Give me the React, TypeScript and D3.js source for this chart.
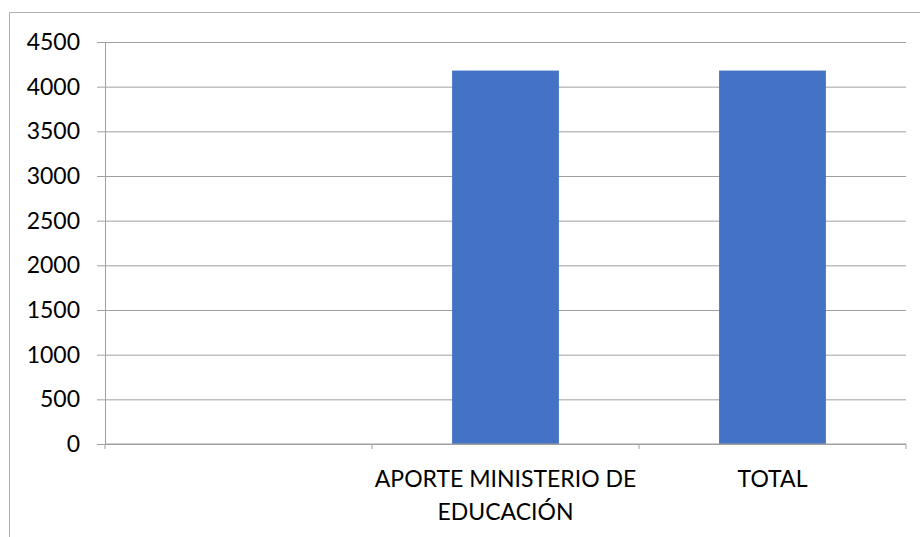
import React, { useRef, useEffect } from 'react'
import * as d3 from 'd3'

// chart data
const categories = ['', 'APORTE MINISTERIO DE EDUCACIÓN', 'TOTAL']
const values = [0, 4180, 4180]
const yTicks = [0, 500, 1000, 1500, 2000, 2500, 3000, 3500, 4000, 4500]

const App = () => {
  const svgRef = useRef<SVGSVGElement>(null)

  const width = 920
  const height = 537
  const margin = { top: 42, right: 14, bottom: 93, left: 105 }
  const font = 'Lato, "Open Sans", sans-serif'
  const fontSize = 23
  const gridColor = '#a0a0a0'

  useEffect(() => {
    const svg = d3.select(svgRef.current)
    svg.selectAll('*').remove()

    const x = d3.scaleBand<string>()
      .domain(categories)
      .range([margin.left, width - margin.right])
      .paddingInner(0.6)
      .paddingOuter(0.3)
    const y = d3.scaleLinear()
      .domain([0, 4500])
      .range([height - margin.bottom, margin.top])

    // chart frame (only top and left edges show)
    svg.append('rect')
      .attr('x', 9.5).attr('y', 12.5)
      .attr('width', width).attr('height', height)
      .attr('fill', 'none')
      .attr('stroke', '#b0b0b0')
      .attr('stroke-width', 1)

    // gridlines + y axis ticks
    const yAxis = d3.axisLeft(y).tickValues(yTicks).tickSize(8).tickPadding(17).tickFormat(d3.format('d'))
    const gy = svg.append('g')
      .attr('transform', `translate(${margin.left},0)`)
      .call(yAxis)
    gy.select('.domain').attr('stroke', gridColor)
    gy.selectAll('.tick line').attr('stroke', gridColor)
    gy.selectAll('.tick text')
      .attr('font-family', font)
      .attr('font-size', fontSize)
      .attr('fill', '#000')
    gy.selectAll('.tick').append('line')
      .attr('x1', 0)
      .attr('x2', width - margin.right - margin.left)
      .attr('stroke', gridColor)

    // bars
    svg.append('g')
      .selectAll('rect')
      .data(values)
      .join('rect')
      .attr('x', (d, i) => x(categories[i]) as number)
      .attr('y', d => y(d))
      .attr('width', x.bandwidth())
      .attr('height', d => y(0) - y(d))
      .attr('fill', '#4472C4')

    // x axis with category-boundary ticks
    const step = x.step()
    const x0 = margin.left
    const base = y(0)
    const gx = svg.append('g')
    gx.append('line')
      .attr('x1', x0).attr('x2', width - margin.right)
      .attr('y1', base).attr('y2', base)
      .attr('stroke', gridColor)
    gx.selectAll('line.tk')
      .data(d3.range(categories.length + 1))
      .join('line')
      .attr('class', 'tk')
      .attr('x1', i => x0 + i * step).attr('x2', i => x0 + i * step)
      .attr('y1', base).attr('y2', base + 5)
      .attr('stroke', gridColor)

    // category labels, wrapped to the band width
    categories.forEach((c, i) => {
      const cx = (x(c) as number) + x.bandwidth() / 2
      const t = gx.append('text')
        .attr('x', cx)
        .attr('y', base + 43)
        .attr('text-anchor', 'middle')
        .attr('font-family', font)
        .attr('font-size', fontSize)
        .attr('fill', '#000')
      const words = c.split(' ')
      let line: string[] = []
      let tspan = t.append('tspan').attr('x', cx).attr('dy', 0)
      words.forEach(w => {
        line.push(w)
        tspan.text(line.join(' '))
        const node = tspan.node() as SVGTSpanElement
        if (node.getComputedTextLength() > step - 4 && line.length > 1) {
          line.pop()
          tspan.text(line.join(' '))
          line = [w]
          tspan = t.append('tspan').attr('x', cx).attr('dy', 32.6).text(w)
        }
      })
    })
  }, [])

  return (
    <div className="viz-container">
      <svg ref={svgRef} width={width} height={height}
        style={{ position: 'absolute', left: 0, top: 0, background: '#fff' }}></svg>
    </div>
  )
}

export default App
